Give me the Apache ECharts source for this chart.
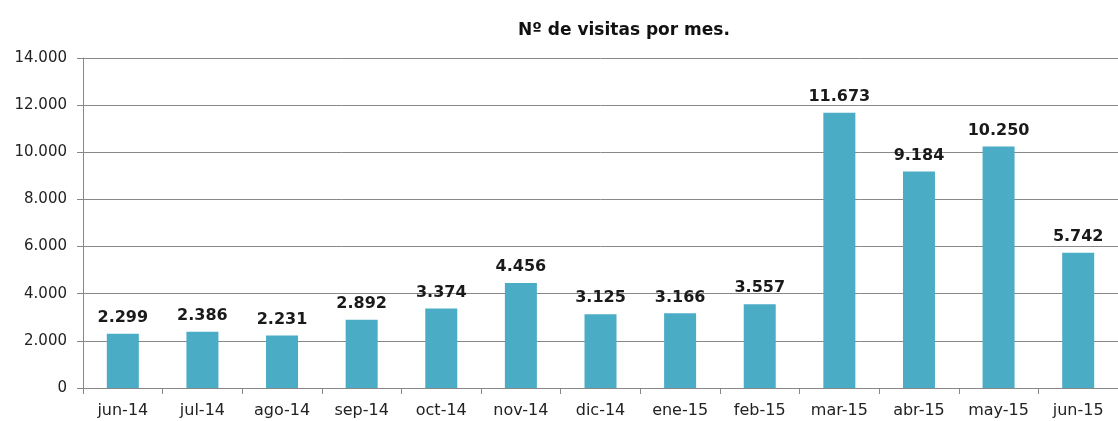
<!DOCTYPE html>
<html>
<head>
<meta charset="utf-8">
<script src="https://cdn.jsdelivr.net/npm/echarts@6/dist/echarts.min.js"></script>
<style>
    html, body { margin: 0; padding: 0; background: #fff; }
    #chart { width: 1118px; height: 421px; }
</style>
</head>
<body>
<div id="chart"></div>
<script>
var months = ["jun-14", "jul-14", "ago-14", "sep-14", "oct-14", "nov-14", "dic-14",
    "ene-15", "feb-15", "mar-15", "abr-15", "may-15", "jun-15"];
var visitas = [2299, 2386, 2231, 2892, 3374, 4456, 3125, 3166, 3557, 11673, 9184, 10250, 5742];
var yTicks = [0, 2000, 4000, 6000, 8000, 10000, 12000, 14000];

// formato con punto de miles
function miles(v) {
    return String(v).replace(/\B(?=(\d{3})+(?!\d))/g, ".");
}

var myChart = echarts.init(document.getElementById("chart"));
var font = "'DejaVu Sans', sans-serif";

var option = {
    backgroundColor: "#fff",
    animation: false,
    title: {
        text: "Nº de visitas por mes.",
        left: 619,
        top: 17,
        textAlign: "center",
        textStyle: { fontFamily: font, fontSize: 17, fontWeight: "bold", color: "#111" }
    },
    grid: { left: 83, top: 58, width: 1043, height: 330 },
    xAxis: {
        type: "category",
        data: months,
        axisLine: { lineStyle: { color: "#888" } },
        axisTick: { show: true, length: 6, lineStyle: { color: "#888" } },
        axisLabel: { margin: 15, fontFamily: font, fontSize: 16, color: "#222", interval: 0 }
    },
    yAxis: {
        type: "value",
        min: yTicks[0],
        max: yTicks[yTicks.length - 1],
        interval: 2000,
        axisLine: { show: true, lineStyle: { color: "#888" } },
        axisTick: { show: true, length: 6, lineStyle: { color: "#888" } },
        splitLine: { lineStyle: { color: "#888" } },
        axisLabel: { margin: 16, fontFamily: font, fontSize: 15, color: "#222", formatter: miles }
    },
    series: [{
        type: "bar",
        data: visitas,
        barWidth: 32,
        itemStyle: { color: "#4BACC6" },
        label: {
            show: true,
            position: "top",
            distance: 8,
            fontFamily: font,
            fontSize: 16,
            fontWeight: "bold",
            color: "#1a1a1a",
            formatter: function (p) { return miles(p.value); }
        }
    }]
};
myChart.setOption(option);
</script>
</body>
</html>
